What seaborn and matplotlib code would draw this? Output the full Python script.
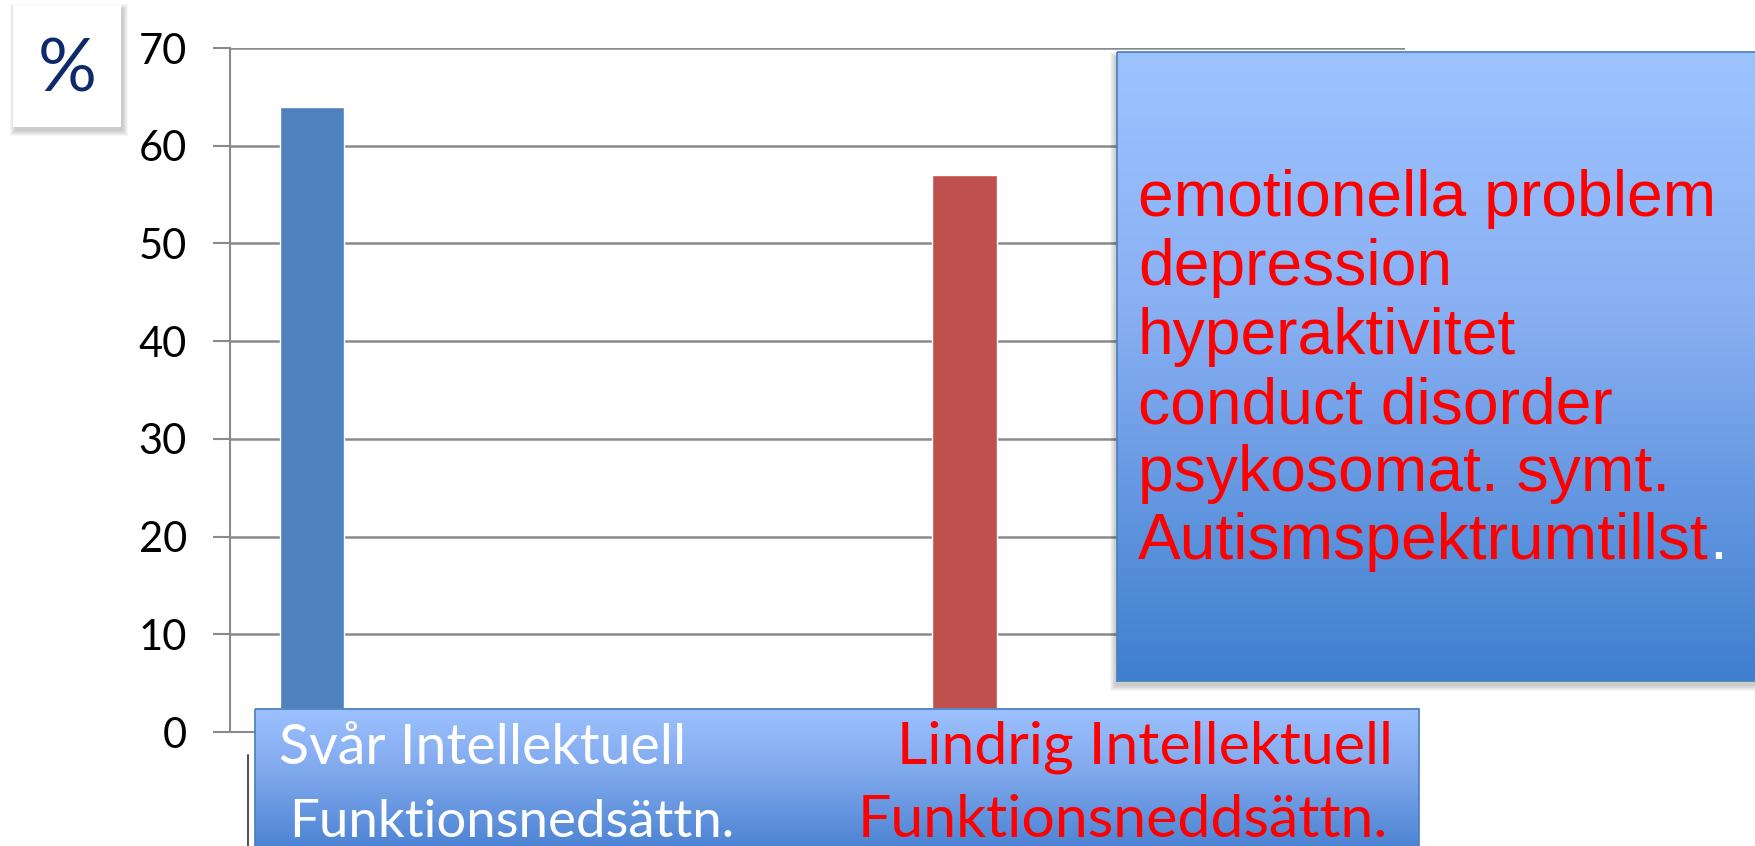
import numpy as np
import pandas as pd
import matplotlib
matplotlib.use("Agg")
import matplotlib.pyplot as plt
import seaborn as sns
from matplotlib.patches import Rectangle
from matplotlib.colors import LinearSegmentedColormap

# ---- data ----
categories = ["Svår", "Lindrig"]
values = [64, 57]
bar_colors = ["#4F81BD", "#C0504D"]
yticks = [0, 10, 20, 30, 40, 50, 60, 70]
bottom_left_lines = ["Svår Intellektuell", "Funktionsnedsättn."]
bottom_right_lines = ["Lindrig Intellektuell", "Funktionsneddsättn."]
box_lines = ["emotionella problem", "depression", "hyperaktivitet",
             "conduct disorder", "psykosomat. symt.", "Autismspektrumtillst"]
unit_label = "%"

W, H = 1755, 846
sns.set_style("white")
plt.rcParams["font.family"] = ["Lato", "DejaVu Sans"]

fig = plt.figure(figsize=(W / 100, H / 100), dpi=100)

# main axes in pixel geometry
ax_l, ax_r, ax_t, ax_b = 230, 1405, 48, 732
ax = fig.add_axes([ax_l / W, (H - ax_b) / H, (ax_r - ax_l) / W, (ax_b - ax_t) / H])

df = pd.DataFrame({"cat": categories, "val": values})
sns.barplot(data=df, x="cat", y="val", hue="cat", palette=bar_colors,
            width=0.0995, saturation=1, legend=False, ax=ax, zorder=3)
ax.set_xlim(-0.1256, 1.674)
ax.set_ylim(0, 70)
ax.set_yticks(yticks)
ax.set_yticklabels([str(v) for v in yticks])
ax.set_xticks([])
ax.set_xlabel("")
ax.set_ylabel("")
ax.yaxis.grid(True, color="#8a8a8a", lw=1.8, zorder=0)
ax.set_axisbelow(True)
for s in ["top", "right"]:
    ax.spines[s].set_visible(False)
for s in ["left", "bottom"]:
    ax.spines[s].set_color("#8a8a8a")
    ax.spines[s].set_linewidth(1.5)
ax.tick_params(axis="y", length=12, width=1.5, color="#8a8a8a", pad=19,
               labelsize=30, labelcolor="#000000", left=True)
ax.patch.set_alpha(0)

# overlay axes in pixel coordinates
ov = fig.add_axes([0, 0, 1, 1], zorder=5)
ov.set_xlim(0, W)
ov.set_ylim(H, 0)
ov.axis("off")
ov.patch.set_alpha(0)


def gradient_box(x0, y0, x1, y1, colors, stops, edge="#4a7ebb"):
    cmap = LinearSegmentedColormap.from_list("g", list(zip(stops, colors)))
    grad = np.linspace(0, 1, 256).reshape(-1, 1)
    ov.imshow(grad, cmap=cmap, extent=(x0, x1, y1, y0), origin="upper",
              aspect="auto", zorder=3, interpolation="bilinear")
    ov.add_patch(Rectangle((x0, y0), x1 - x0, y1 - y0, fill=False,
                           edgecolor=edge, lw=1.2, zorder=4))


def shadow(x0, y0, x1, y1, dx=3, dy=5, n=6):
    for i in range(n):
        ov.add_patch(Rectangle((x0 + dx - i, y0 + dy - i), x1 - x0 + 2 * i,
                               y1 - y0 + 2 * i, facecolor="black",
                               alpha=0.035, lw=0, zorder=2))


# % box
shadow(13, 5, 121, 127, dx=2, dy=4)
ov.add_patch(Rectangle((13, 5), 108, 122, facecolor="white", lw=0, zorder=3))
ov.text(67, 71, unit_label, color="#0f2a6b", fontsize=53, ha="center",
        va="center", zorder=6)

# right text box
shadow(1117, 52, 1760, 681, dx=-2, dy=5)
gradient_box(1117, 52, 1760, 681, ["#9DC3FF", "#88AFF2", "#3F7FCF"], [0, 0.42, 1])
baselines = [216, 285, 354, 423, 491, 559]
box_fs = 46.2
last = None
for line, yb in zip(box_lines, baselines):
    last = ov.text(1138, yb, line, color="#FF0000", fontsize=box_fs,
                   family=["Liberation Sans", "DejaVu Sans"], ha="left",
                   va="baseline", zorder=6)
fig.canvas.draw()
bb = last.get_window_extent()
xd = ov.transData.inverted().transform((bb.x1, 0))[0]
ov.text(xd, baselines[-1], ".", color="white", fontsize=box_fs,
        family=["Liberation Sans", "DejaVu Sans"], ha="left", va="baseline", zorder=6)

# bottom label box
ov.plot([248, 248], [755, 846], color="#555555", lw=1.5, zorder=2)
gradient_box(255, 709, 1419, 852, ["#9DC1FF", "#7FA8EC", "#4A82D2"], [0, 0.45, 1])
ov.text(279, 764, bottom_left_lines[0], color="white", fontsize=40,
        ha="left", va="baseline", zorder=6)
ov.text(289, 837, bottom_left_lines[1], color="white", fontsize=38,
        ha="left", va="baseline", zorder=6)
ov.text(1393, 764, bottom_right_lines[0], color="#FF0000", fontsize=42.5,
        ha="right", va="baseline", zorder=6)
ov.text(1388, 837, bottom_right_lines[1], color="#FF0000", fontsize=42.5,
        ha="right", va="baseline", zorder=6)

fig.savefig("out.png", dpi=100)
